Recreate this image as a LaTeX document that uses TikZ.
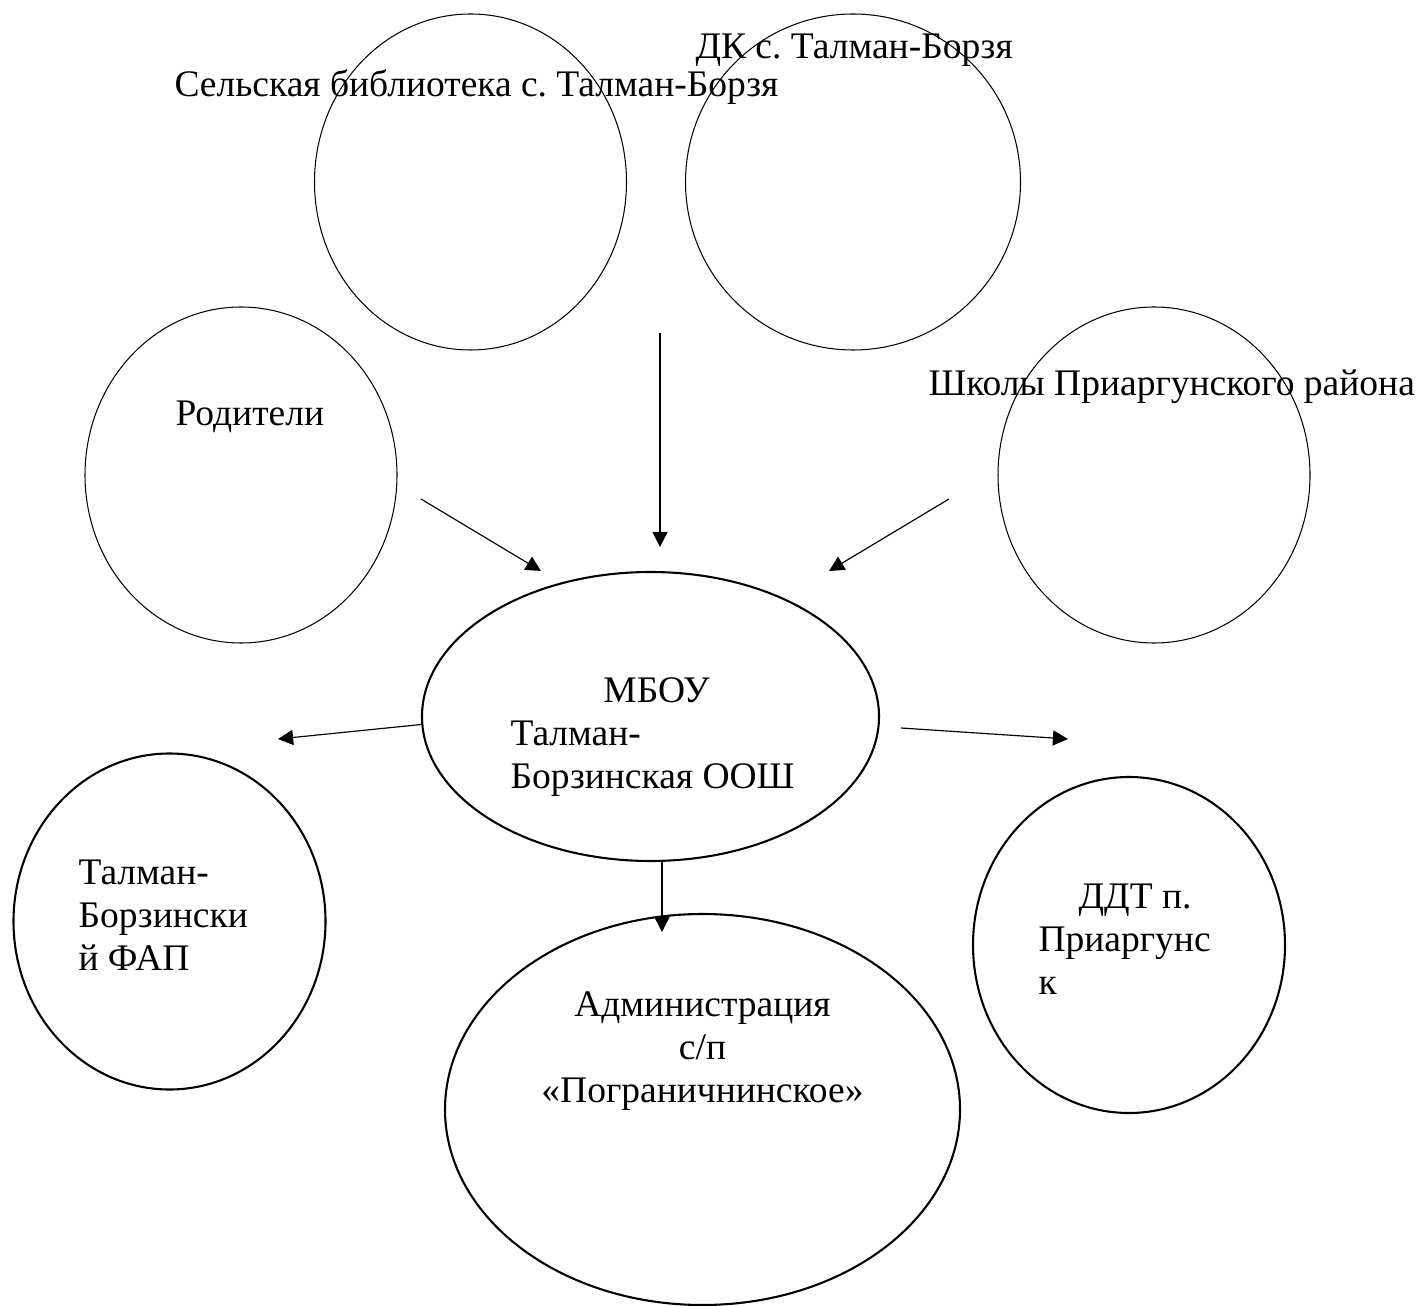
\documentclass[tikz,border=0pt]{standalone}
\usepackage{fontspec}
\setmainfont{Liberation Serif}
\usetikzlibrary{shapes.geometric,arrows.meta,positioning}
\frenchspacing

\tikzset{
  every node/.style={font=\fontsize{14.4pt}{16.5pt}\selectfont},
  oval/.style={ellipse, draw, line width=0.4pt, inner sep=0pt,
    minimum width=312*0.384pt, minimum height=336*0.384pt},
  boldoval/.style={oval, line width=0.8pt},
  txt/.style={inner sep=0pt, anchor=base west, align=left},
  link/.style={line width=0.45pt, -{Triangle[length=5.8pt, width=5.8pt]}}
}

\begin{document}
\begin{tikzpicture}[x=0.384pt, y=-0.384pt]
\useasboundingbox (0,0) rectangle (1422,1306);

% partners round the school
\node[oval] (bib) at (470.5,182) {};
\node[oval, minimum width=335*0.384pt] (dk) at (853,182) {};
\node[oval] (rod) at (241,475) {};
\node[oval] (shk) at (1154,475) {};
\node[boldoval] (fap) at (169.5,921.5) {};
\node[boldoval] (ddt) at (1129,945) {};
\node[boldoval, minimum width=457*0.384pt, minimum height=289*0.384pt] (mbou) at (650.5,716.5) {};
\node[boldoval, minimum width=515*0.384pt, minimum height=391*0.384pt] (adm) at (702.5,1109.5) {};

% texts (multi-line ones sit on their last line)
\node[txt] (bibtext) at (174,97) {Сельская библиотека с. Талман-Борзя};
\node[txt] (dktext) at (695,59) {ДК с. Талман-Борзя};
\node[txt] (rodtext) at (175,425.5) {Родители};
\node[txt] (shktext) at (928,396) {Школы Приаргунского района};
\node[txt] (mboutext) at (510,788) {\hspace*{35.7pt}МБОУ\\Талман-\\Борзинская ООШ};
\node[txt] (faptext) at (78,970) {Талман-\\Борзински\\й ФАП};
\node[txt] (ddttext) at (1038,994) {\hspace*{15.4pt}ДДТ п.\\Приаргунс\\к};
\node[txt, anchor=base, align=center] (admtext) at (702.5,1102) {Администрация\\с/п\\«Пограничнинское»};

% free ends of the arrows
\coordinate (toptail) at (660,333);
\coordinate (toptip) at (660,547);
\coordinate (ltail) at (421,499);
\coordinate (ltip) at (541,571);
\coordinate (rtail) at (949,499);
\coordinate (rtip) at (829,571);
\coordinate (faptip) at (278,739);
\coordinate (ddttail) at (901,728);
\coordinate (ddttip) at (1068,739);
\coordinate (admtip) at (662,932);

\draw[link] (toptail) -- (toptip);
\draw[link] (ltail) -- (ltip);
\draw[link] (rtail) -- (rtip);
\draw[link] (mbou.182) -- (faptip);
\draw[link] (ddttail) -- (ddttip);
\draw[link, line width=0.6pt] (mbou.south -| admtip) -- (admtip);

\end{tikzpicture}
\end{document}
